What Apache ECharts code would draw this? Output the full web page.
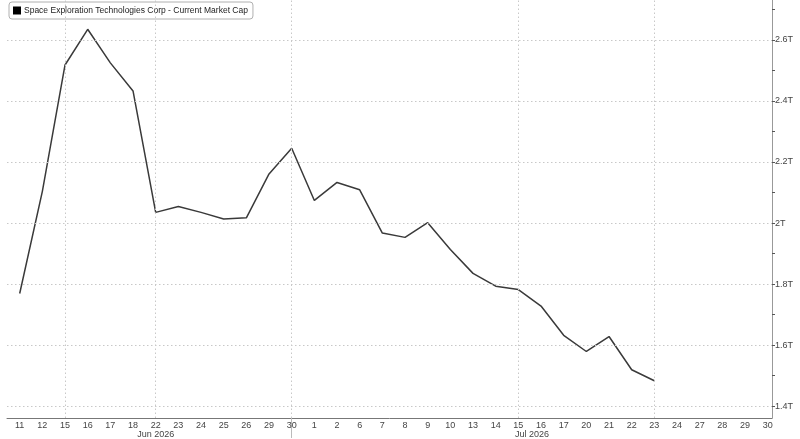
<!DOCTYPE html>
<html><head><meta charset="utf-8">
<script src="https://cdn.jsdelivr.net/npm/echarts@6/dist/echarts.min.js"></script>
<style>html,body{margin:0;padding:0;background:#fff}#c{width:800px;height:439px}</style>
</head><body><div id="c"></div>
<script>
var xLabels = ['11','12','15','16','17','18','22','23','24','25','26','29','30','1','2','6','7','8','9','10','13','14','15','16','17','20','21','22','23','24','27','28','29','30'];
var marketCap = [1.769,2.104,2.518,2.635,2.525,2.433,2.035,2.054,2.035,2.013,2.017,2.161,2.245,2.074,2.133,2.109,1.967,1.953,2.001,1.913,1.835,1.793,1.782,1.728,1.632,1.579,1.628,1.519,1.483];
var yLabelValues = [1.4,1.6,1.8,2.0,2.2,2.4,2.6];
var yTickValues = [1.4,1.5,1.6,1.7,1.8,1.9,2.0,2.1,2.2,2.3,2.4,2.5,2.6,2.7];
var xGridIdx = [2,6,12,22,28];
var monthLabels = ['Jun 2026','Jul 2026'];
var monthLabelIdx = [6,22.6];
var monthSepIdx = [12];
var seriesName = 'Space Exploration Technologies Corp - Current Market Cap';

var FONT = '"Liberation Sans",Arial,sans-serif';
var xIdx = xLabels.map(function(_, i){ return i; });
var lineData = marketCap.map(function(v, i){ return [i, v]; });
var gridLines = xGridIdx.map(function(i){ return {xAxis: i}; })
  .concat(yLabelValues.map(function(v){ return {yAxis: v}; }));

var chart = echarts.init(document.getElementById('c'), null, {renderer:'canvas'});
chart.setOption({
  animation: false,
  backgroundColor: '#fff',
  grid: {left: 7, right: 28, top: 0, bottom: 20, containLabel: false},
  legend: {
    left: 9, top: 2, icon: 'rect', itemWidth: 8, itemHeight: 8, itemGap: 4,
    padding: [4, 5, 4, 4], borderColor: '#b0b0b0', borderWidth: 1, borderRadius: 3,
    textStyle: {fontFamily: FONT, fontSize: 8.5, color: '#222', padding: [0,0,0,-2]},
    data: [{name: seriesName, itemStyle: {color: '#000'}}]
  },
  xAxis: [{
    type: 'value', min: -0.56, max: 33.19, position: 'bottom',
    axisLine: {show: true, onZero: false, lineStyle: {color: '#777', width: 1}},
    axisTick: {show: false},
    splitLine: {show: false},
    axisLabel: {customValues: xIdx, margin: 3, fontFamily: FONT, fontSize: 9, color: '#444',
      formatter: function(v){ return xLabels[Math.round(v)]; }}
  },{
    type: 'value', min: -0.56, max: 33.19, position: 'bottom',
    axisLine: {show: false, onZero: false},
    axisTick: {show: true, customValues: monthSepIdx, length: 20, lineStyle: {color: '#bbb'}},
    splitLine: {show: false},
    axisLabel: {customValues: monthLabelIdx, margin: 12, fontFamily: FONT, fontSize: 9, color: '#444',
      formatter: function(v){ var k = monthLabelIdx.indexOf(v); return k >= 0 ? monthLabels[k] : ''; }}
  }],
  yAxis: {
    type: 'value', position: 'right', min: 1.361, max: 2.731,
    axisLine: {show: true, onZero: false, lineStyle: {color: '#999', width: 1}},
    axisTick: {show: true, customValues: yTickValues, length: 3, lineStyle: {color: '#555'}},
    splitLine: {show: false},
    axisLabel: {customValues: yLabelValues, margin: 3, fontFamily: FONT, fontSize: 9, color: '#444',
      formatter: function(v){ return (+(+v).toFixed(1)) + 'T'; }}
  },
  series: [{
    type: 'line', name: '__grid', data: [], z: 1, silent: true,
    markLine: {silent: true, symbol: ['none','none'], label: {show: false},
      lineStyle: {type: [1.5, 2.5], color: '#c8c8c8', width: 1}, animation: false, data: gridLines}
  },{
    type: 'line', name: seriesName, data: lineData, z: 3, xAxisIndex: 0,
    symbol: 'none', showSymbol: false,
    lineStyle: {color: '#3a3a3a', width: 1.5},
    itemStyle: {color: '#000'}
  }]
});
</script></body></html>
